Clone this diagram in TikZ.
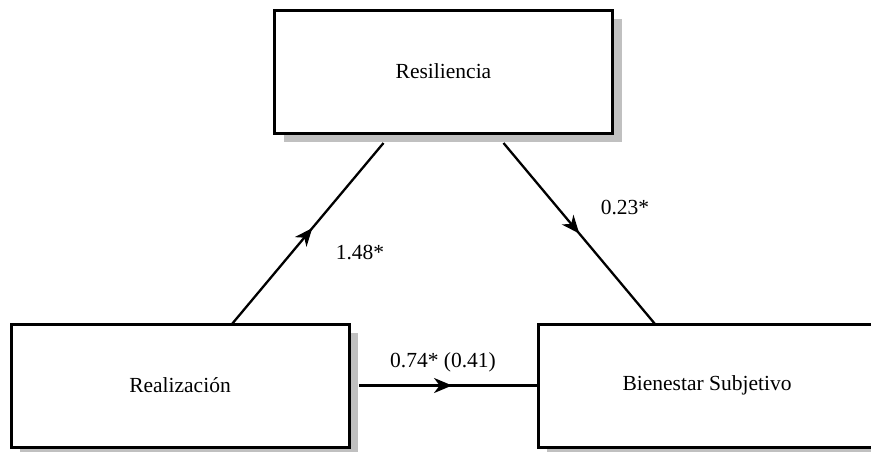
\documentclass[tikz,border=0pt]{standalone}
\usepackage{fontspec}
\setmainfont{Liberation Serif}
\usetikzlibrary{arrows.meta,shadows,decorations.markings,calc}
\definecolor{shadowgray}{HTML}{C0C0C0}
\tikzset{
  box/.style={draw=black, line width=3pt, fill=white, rectangle, outer sep=0pt, inner sep=0pt,
    minimum width=338pt, minimum height=123pt,
    drop shadow={shadow xshift=9pt, shadow yshift=-9pt, fill=shadowgray, opacity=1}},
  conn/.style={line width=2.3pt, draw=black},
  midarrow/.style={postaction={decorate}, decoration={markings,
    mark=at position #1 with {\arrow{Stealth[length=18pt,width=15pt,inset=5.5pt]}}}},
  lbl/.style={inner sep=0pt}
}
\begin{document}
\begin{tikzpicture}[x=1pt,y=-1pt, font=\fontsize{21.5}{25}\selectfont]
\useasboundingbox (0,0) rectangle (871,451);
\begin{scope}
\clip (0,0) rectangle (871,451);
\node[box] (res) at (443.5,71.5) {Resiliencia};
\node[box] (rea) at (180,385.5) {Realización};
\node[box] (bie) at (707,385.5) {Bienestar Subjetivo};

\coordinate (l1) at ($(rea.north west)+(221,0)$);
\coordinate (l2) at ($(res.south west)+(109,10)$);
\coordinate (r1) at ($(res.south west)+(229,10)$);
\coordinate (r2) at ($(bie.north west)+(117,0)$);
\coordinate (h1) at ($(rea.east)+(10,0)$);

\draw[conn, midarrow=0.53] (l1) -- (l2);
\draw[conn, midarrow=0.5] (r1) -- (r2);
\draw[conn, midarrow=0.52] (h1) -- (bie.west);

\node[lbl] (t1) at (360,252) {1.48*};
\node[lbl] (t2) at (625,207) {0.23*};
\node[lbl] (t3) at (443,362) {0.74* (0.41)};
\end{scope}
\end{tikzpicture}
\end{document}
